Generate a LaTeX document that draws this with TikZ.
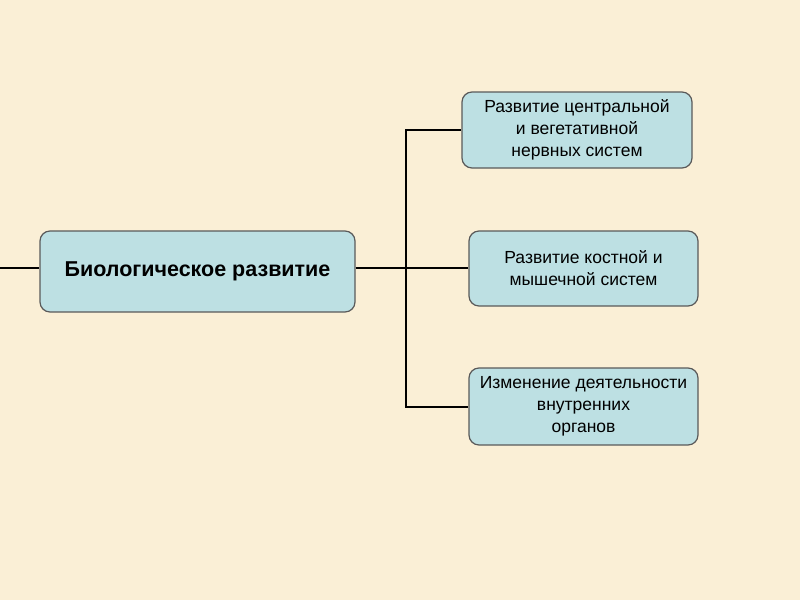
\documentclass[tikz,border=0pt]{standalone}
\usepackage{fontspec}
\setmainfont{Liberation Sans}
\definecolor{bgc}{HTML}{FAEFD6}
\definecolor{boxfill}{HTML}{BDE0E3}
\definecolor{boxdraw}{HTML}{5A5A5A}
\tikzset{
  box/.style={draw=boxdraw, fill=boxfill, line width=1.2pt, rounded corners=10pt, align=center, inner sep=0pt},
  smalltext/.style={font=\fontsize{17.5}{22}\selectfont},
  conn/.style={draw=black, line width=2.6pt}
}
\begin{document}
\begin{tikzpicture}[x=1pt,y=-1pt]
\fill[bgc] (0,0) rectangle (800,600);
\useasboundingbox (0,0) rectangle (800,600);
\node[box, minimum width=315pt, minimum height=81pt, font=\fontsize{21.5}{24}\selectfont\bfseries] (main) at (197.5,271.5) {Биологическое развитие};
\node[box, smalltext, minimum width=230pt, minimum height=76pt] (b1) at (577,130) {Развитие центральной\\и вегетативной\\нервных систем};
\node[box, smalltext, minimum width=229pt, minimum height=75pt] (b2) at (583.5,268.5) {Развитие костной и\\мышечной систем};
\node[box, smalltext, minimum width=229pt, minimum height=77pt] (b3) at (583.5,406.5) {Изменение деятельности\\внутренних\\органов};
\coordinate (left) at (0,268);
\coordinate (j1) at (406,130);
\coordinate (j3) at (406,407);
\draw[conn] (left) -- (main.west |- left);
\draw[conn] (main.east |- left) -- (b2.west |- left);
\draw[conn, line cap=rect] (j1) -- (j3);
\draw[conn] (j1) -- (b1.west |- j1);
\draw[conn] (j3) -- (b3.west |- j3);
\end{tikzpicture}
\end{document}
